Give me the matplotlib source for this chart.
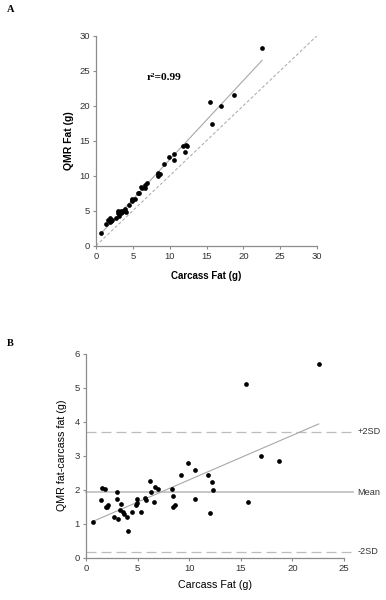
import numpy as np
import matplotlib
matplotlib.use("Agg")
import matplotlib.pyplot as plt

# Data
carcass_fat = [0.71, 1.42, 1.58, 1.87, 1.94, 2.13, 2.05, 3.00, 3.00, 2.75, 3.07, 3.36,
               3.33, 3.55, 3.68, 3.97, 4.10, 4.42, 4.91, 4.91, 4.85, 5.36, 5.75, 5.78,
               6.17, 6.30, 6.65, 6.62, 6.98, 8.37, 8.40, 8.40, 8.66, 9.21, 9.91, 10.59,
               10.53, 11.85, 12.21, 12.31, 12.05, 15.50, 15.70, 16.93, 18.67, 22.55]
diff_fat = [1.06, 1.70, 2.06, 2.03, 1.48, 1.54, 1.50, 1.94, 1.73, 1.21, 1.13, 1.57,
            1.40, 1.33, 1.30, 1.21, 0.78, 1.35, 1.72, 1.62, 1.56, 1.33, 1.77, 1.70,
            2.26, 1.92, 2.09, 1.65, 2.01, 2.03, 1.81, 1.50, 1.54, 2.42, 2.78, 2.57,
            1.72, 2.44, 2.22, 1.98, 1.32, 5.10, 1.65, 3.00, 2.84, 5.70]
qmr_fat = [c + d for c, d in zip(carcass_fat, diff_fat)]

fit_a_slope, fit_a_intercept = 1.131, 0.98
fit_b_slope, fit_b_intercept = 0.131, 0.98
mean_diff = 1.93
plus_2sd = 3.70
minus_2sd = 0.17
r2_text = "r²=0.99"

a_ticks = [0, 5, 10, 15, 20, 25, 30]
b_xticks = [0, 5, 10, 15, 20, 25]
b_yticks = [0, 1, 2, 3, 4, 5, 6]

plt.rcParams['font.family'] = ['Liberation Sans', 'DejaVu Sans']

fig = plt.figure(figsize=(3.86, 6.0), dpi=100)

spine_col = '#8c8c8c'
tick_col = '#333333'

def style(ax):
    for s in ['top', 'right']:
        ax.spines[s].set_visible(False)
    for s in ['left', 'bottom']:
        ax.spines[s].set_color(spine_col)
        ax.spines[s].set_linewidth(0.9)
    ax.tick_params(direction='out', length=2.5, width=0.8, color=spine_col,
                   labelsize=6.8, labelcolor=tick_col, pad=2)

# Panel A
axA = fig.add_axes([96/386, 354.3/600, 221/386, 210/600])
style(axA)
axA.set_xlim(0, 30)
axA.set_ylim(0, 30)
axA.set_xticks(a_ticks)
axA.set_yticks(a_ticks)
axA.plot([0, 30], [0, 30], color='#acacac', lw=0.75, dashes=(3, 2))
xf = np.array([min(carcass_fat), max(carcass_fat)])
axA.plot(xf, fit_a_slope * xf + fit_a_intercept, color='#a8a8a8', lw=0.8)
axA.plot(carcass_fat, qmr_fat, 'o', color='black', ms=3.4, mec='black', mew=0)
axA.text(6.9, 24.0, r2_text, family=['Liberation Serif', 'DejaVu Serif'],
         fontweight='bold', fontsize=8.2, va='center', ha='left')
axA.set_xlabel('Carcass Fat (g)', fontsize=7, fontweight='bold', labelpad=7)
axA.set_ylabel('QMR Fat (g)', fontsize=7.5, fontweight='bold', labelpad=4)

# Panel B
axB = fig.add_axes([86/386, 42.3/600, 258/386, 204/600])
style(axB)
axB.set_xlim(0, 25)
axB.set_ylim(0, 6)
axB.set_xticks(b_xticks)
axB.set_yticks(b_yticks)
line_end = 25.9
axB.plot([0, line_end], [plus_2sd, plus_2sd], color='#bdbdbd', lw=0.9,
         dashes=(8, 4), clip_on=False)
axB.plot([0, line_end], [minus_2sd, minus_2sd], color='#bdbdbd', lw=0.9,
         dashes=(8, 4), clip_on=False)
axB.plot([0, line_end], [mean_diff, mean_diff], color='#c8c8c8', lw=1.4,
         clip_on=False)
axB.plot(xf, fit_b_slope * xf + fit_b_intercept, color='#a8a8a8', lw=0.8)
axB.plot(carcass_fat, diff_fat, 'o', color='black', ms=3.4, mec='black', mew=0)
for lab, yv in [('+2SD', plus_2sd), ('Mean', mean_diff), ('-2SD', minus_2sd)]:
    axB.text(26.3, yv, lab, fontsize=6.6, color=tick_col, va='center', ha='left',
             clip_on=False)
axB.set_xlabel('Carcass Fat (g)', fontsize=7.7, labelpad=5)
axB.set_ylabel('QMR fat-carcass fat (g)', fontsize=7.7, labelpad=5)

fig.text(7/386, 1 - 9/600, 'A', family=['Liberation Serif', 'DejaVu Serif'],
         fontweight='bold', fontsize=7.5, va='center', ha='left')
fig.text(7/386, 1 - 343/600, 'B', family=['Liberation Serif', 'DejaVu Serif'],
         fontweight='bold', fontsize=7.5, va='center', ha='left')

fig.savefig('out.png', dpi=100)
